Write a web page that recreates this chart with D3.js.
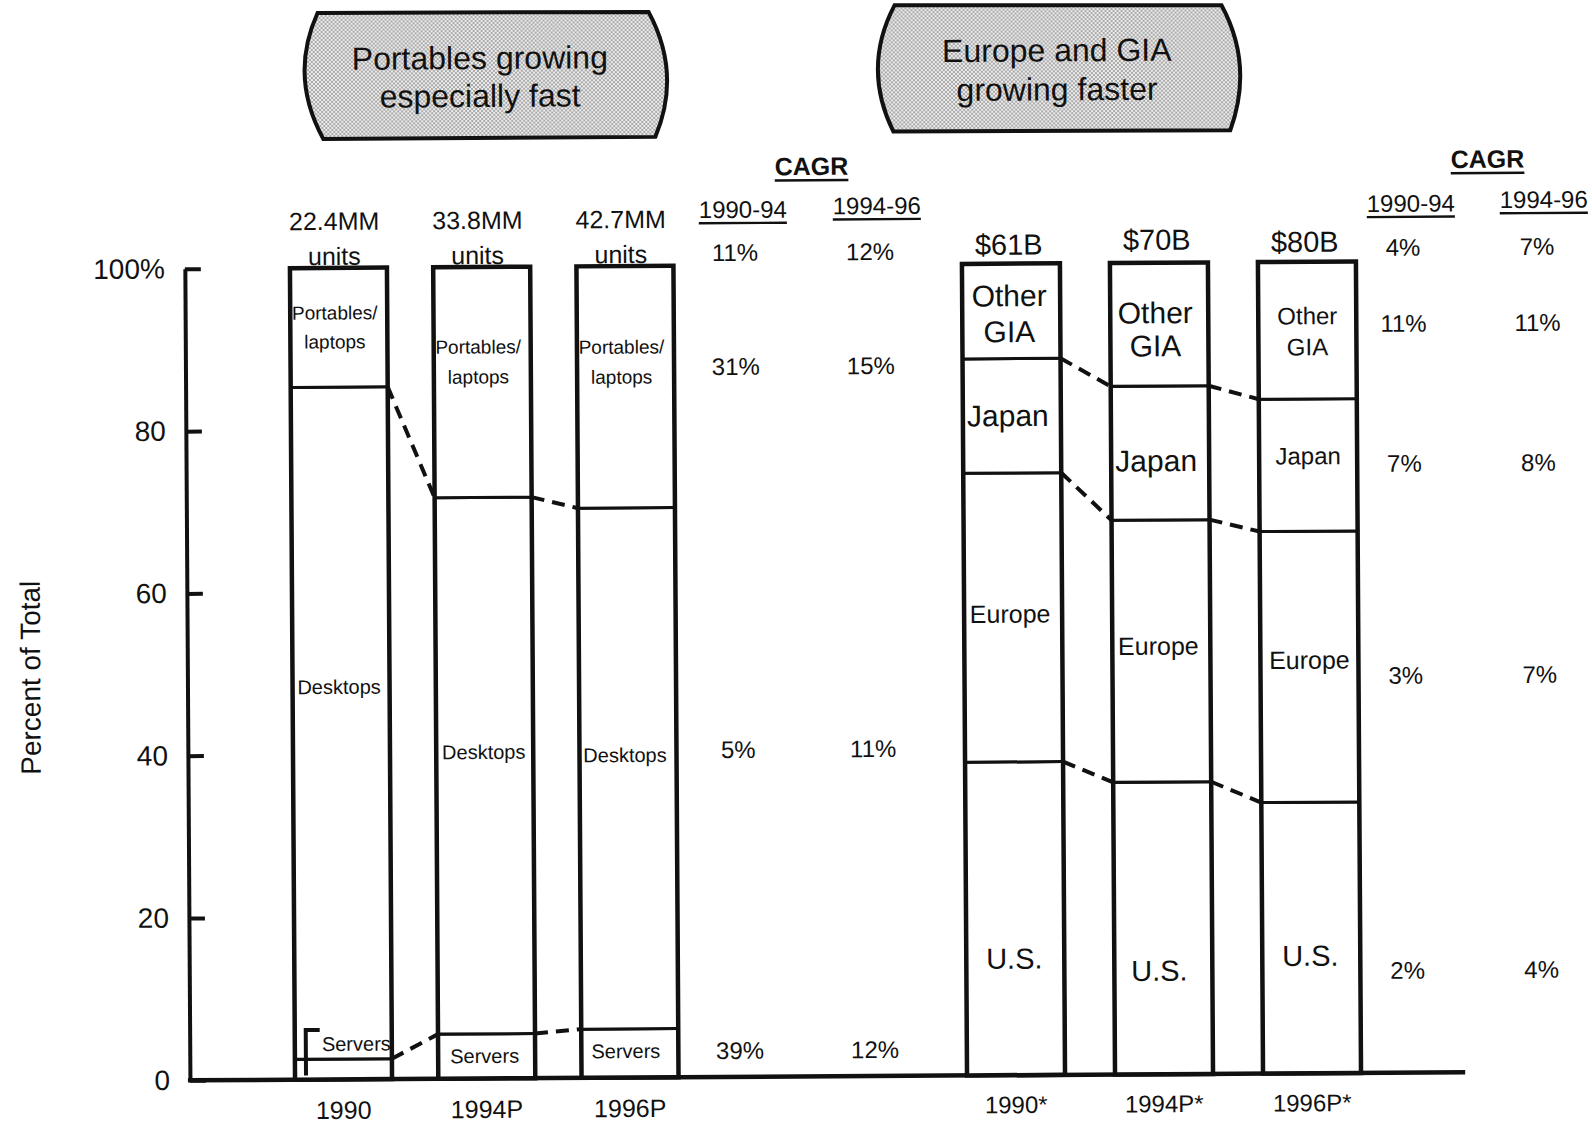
<!DOCTYPE html>
<html>
<head>
<meta charset="utf-8">
<script src="https://cdn.jsdelivr.net/npm/d3@7"></script>
<style>
  body { margin: 0; background: #fff; }
  svg { display: block; }
  text { font-family: "Liberation Sans", Arial, Helvetica, sans-serif; fill: #111; }
</style>
</head>
<body>
<svg id="chart" width="1592" height="1127"></svg>
<script>
// ---- Unit shipments by product type (percent of total) ----
const unitYears = ["1990", "1994P", "1996P"];
const unitTotalsMM = [22.4, 33.8, 42.7];
const serversShare = [2.5, 5.5, 6.0];
const desktopsShare = [82.8, 66.1, 64.2];
const portablesShare = [14.7, 28.4, 29.8];
// CAGR rows: total, portables, desktops, servers
const unitCagr9094 = ["11%", "31%", "5%", "39%"];
const unitCagr9496 = ["12%", "15%", "11%", "12%"];

// ---- Revenue by region (percent of total) ----
const regionYears = ["1990*", "1994P*", "1996P*"];
const revenueTotalsB = [61, 70, 80];
const usShare = [38.6, 36.0, 33.4];
const europeShare = [35.6, 32.3, 33.4];
const japanShare = [14.1, 16.5, 16.3];
const otherGiaShare = [11.7, 15.2, 16.9];
// CAGR rows: total, other GIA, Japan, Europe, U.S.
const regionCagr9094 = ["4%", "11%", "7%", "3%", "2%"];
const regionCagr9496 = ["7%", "11%", "8%", "7%", "4%"];

const yTicks = [0, 20, 40, 60, 80, 100];
const cagrPeriods = ["1990-94", "1994-96"];
const calloutLines = [["Portables growing", "especially fast"], ["Europe and GIA", "growing faster"]];

// ---- layout ----
const svg = d3.select("#chart");
const defs = svg.append("defs");
const stipple = defs.append("pattern")
  .attr("id", "stipple").attr("width", 4).attr("height", 4)
  .attr("patternUnits", "userSpaceOnUse");
stipple.append("rect").attr("width", 4).attr("height", 4).attr("fill", "#ececec");
stipple.append("circle").attr("cx", 1).attr("cy", 1).attr("r", 0.72).attr("fill", "#444");
stipple.append("circle").attr("cx", 3).attr("cy", 3).attr("r", 0.72).attr("fill", "#444");

// the page is drawn slightly rotated, as on the printed sheet
const g = svg.append("g").attr("transform", "rotate(-0.36 796 563)");

const y = d3.scaleLinear().domain([0, 100]).range([1076.5, 265]);
const xUnits = d3.scalePoint().domain(unitYears).range([340.3, 626.8]);
const xRegion = d3.scalePoint().domain(regionYears).range([1012.8, 1308.8]);
const unitBarW = 97, regionBarW = 98;
const axisX = 186.7;

// ---- callout boxes ----
const calloutShapes = [
  { tl: [321, 10], tr: [652, 11], br: [658, 136], bl: [326, 136], lc: [292, 73], rc: [685, 73], cx: 483, ys: [56, 94] },
  { tl: [898, 6], tr: [1225, 8], br: [1233, 133], bl: [896, 132], lc: [865, 68], rc: [1257, 68], cx: 1060, ys: [52, 91] }
];
calloutShapes.forEach((s, i) => {
  const p = d3.path();
  p.moveTo(...s.tl); p.lineTo(...s.tr);
  p.quadraticCurveTo(...s.rc, ...s.br);
  p.lineTo(...s.bl);
  p.quadraticCurveTo(...s.lc, ...s.tl);
  p.closePath();
  g.append("path").attr("d", p.toString())
    .attr("fill", "url(#stipple)").attr("stroke", "#111").attr("stroke-width", 4);
  calloutLines[i].forEach((line, j) => {
    g.append("text").attr("x", s.cx).attr("y", s.ys[j])
      .attr("text-anchor", "middle").attr("dominant-baseline", "central")
      .attr("font-size", 32).text(line);
  });
});

// ---- y axis ----
const yAxis = d3.axisLeft(y).tickValues(yTicks).tickSizeInner(-16).tickSizeOuter(0).tickPadding(20)
  .tickFormat(d => d === 100 ? "100%" : d);
const ya = g.append("g").attr("transform", `translate(${axisX},0)`).call(yAxis);
ya.select(".domain").attr("stroke", "#111").attr("stroke-width", 4);
ya.selectAll(".tick line").attr("stroke", "#111").attr("stroke-width", 4);
ya.selectAll(".tick text").attr("font-size", 28).attr("fill", "#111")
  .attr("font-family", "'Liberation Sans', Arial, sans-serif");

g.append("text").attr("transform", "translate(30,673) rotate(-90)")
  .attr("text-anchor", "middle").attr("dominant-baseline", "central")
  .attr("font-size", 28).text("Percent of Total");

// baseline across both panels
g.append("line").attr("x1", axisX - 2).attr("x2", 1462)
  .attr("y1", y(0)).attr("y2", y(0)).attr("stroke", "#111").attr("stroke-width", 4.5);

// ---- stacked bars ----
function drawStack(keys, table, xs, barW) {
  const series = d3.stack().keys(keys)(table);
  const gb = g.append("g");
  series.forEach(s => {
    gb.selectAll(null).data(s).join("rect")
      .attr("x", (d, i) => xs(table[i].year) - barW / 2)
      .attr("width", barW)
      .attr("y", d => y(d[1]))
      .attr("height", d => y(d[0]) - y(d[1]))
      .attr("fill", "#fff").attr("stroke", "#111").attr("stroke-width", 3);
  });
  // heavy outline of each bar
  gb.selectAll(null).data(table).join("rect")
    .attr("x", d => xs(d.year) - barW / 2).attr("width", barW)
    .attr("y", y(100)).attr("height", y(0) - y(100))
    .attr("fill", "none").attr("stroke", "#111").attr("stroke-width", 4.5);
  // dashed connectors between segment boundaries
  series.slice(0, -1).forEach(s => {
    for (let i = 0; i < s.length - 1; i++) {
      gb.append("line")
        .attr("x1", xs(table[i].year) + barW / 2).attr("y1", y(s[i][1]))
        .attr("x2", xs(table[i + 1].year) - barW / 2).attr("y2", y(s[i + 1][1]))
        .attr("stroke", "#111").attr("stroke-width", 4).attr("stroke-dasharray", "13,8");
    }
  });
  return series;
}

const unitTable = unitYears.map((yr, i) => ({
  year: yr, servers: serversShare[i], desktops: desktopsShare[i], portables: portablesShare[i]
}));
drawStack(["servers", "desktops", "portables"], unitTable, xUnits, unitBarW);

const regionTable = regionYears.map((yr, i) => ({
  year: yr, us: usShare[i], europe: europeShare[i], japan: japanShare[i], other: otherGiaShare[i]
}));
drawStack(["us", "europe", "japan", "other"], regionTable, xRegion, regionBarW);

// ---- segment labels ----
function label(x, yy, txt, size) {
  g.append("text").attr("x", x).attr("y", yy)
    .attr("text-anchor", "middle").attr("dominant-baseline", "central")
    .attr("font-size", size).text(txt);
}
const unitLabelLayout = [
  { lines: ["Portables/", "laptops"], ys: [[310, 339], [345, 375], [346, 376]], dx: [-4, -4, -4], size: 19 },
  { lines: ["Desktops"], ys: [[684], [750], [754]], dx: [-2, -1, -3], size: 20 },
  { lines: ["Servers"], ys: [[1041], [1054], [1050]], dx: [13, -2, -4], size: 20 }
];
unitLabelLayout.forEach(L => unitYears.forEach((yr, i) => {
  L.lines.forEach((t, j) => label(xUnits(yr) + L.dx[i], L.ys[i][j], t, L.size));
}));
// bracket pointing at the thin 1990 servers slice
const bx = xUnits(unitYears[0]) - unitBarW / 2 + 11;
g.append("path")
  .attr("d", `M${bx},${y(0) - 4} V${1027} H${bx + 14}`)
  .attr("fill", "none").attr("stroke", "#111").attr("stroke-width", 4);

const regionLabelLayout = [
  { lines: ["Other", "GIA"], ys: [[297, 333], [315, 348], [319, 350]], sizes: [30, 30, 24], dx: [-2, -4, 0] },
  { lines: ["Japan"], ys: [[417], [463], [459]], sizes: [30, 30, 24], dx: [-4, -4, 0] },
  { lines: ["Europe"], ys: [[615], [648], [663]], sizes: [25, 25, 25], dx: [-3, -3, 0] },
  { lines: ["U.S."], ys: [[960], [973], [959]], sizes: [29, 29, 29], dx: [-1, -4, -1] }
];
regionLabelLayout.forEach(L => regionYears.forEach((yr, i) => {
  L.lines.forEach((t, j) => label(xRegion(yr) + L.dx[i], L.ys[i][j], t, L.sizes[i]));
}));

// ---- totals above bars ----
unitYears.forEach((yr, i) => {
  label(xUnits(yr) - 4, 218, `${unitTotalsMM[i]}MM`, 25);
  label(xUnits(yr) - 4, 253, "units", 25);
});
const revTotalY = [246, 242, 245];
regionYears.forEach((yr, i) => label(xRegion(yr) - 2, revTotalY[i], `$${revenueTotalsB[i]}B`, 29));

// ---- x-axis category labels ----
unitYears.forEach(yr => label(xUnits(yr), 1107, yr, 25));
regionYears.forEach(yr => label(xRegion(yr), 1106, yr, 24));

// ---- CAGR tables ----
function cagrTable(hx, hy, cols, colHeadY, rowsY, values) {
  g.append("text").attr("x", hx).attr("y", hy)
    .attr("text-anchor", "middle").attr("dominant-baseline", "central")
    .attr("font-size", 25).attr("font-weight", "bold")
    .attr("text-decoration", "underline").text("CAGR");
  cagrPeriods.forEach((p, c) => {
    g.append("text").attr("x", cols[c]).attr("y", colHeadY[c])
      .attr("text-anchor", "middle").attr("dominant-baseline", "central")
      .attr("font-size", 24).attr("text-decoration", "underline").text(p);
    values[c].forEach((v, r) => label(cols[c] - (c === 0 ? 8 : 7), rowsY[r], v, 24));
  });
}
cagrTable(814, 166, [745, 879], [209, 206], [252, 366, 749, 1050], [unitCagr9094, unitCagr9496]);
cagrTable(1490, 163, [1413, 1546], [207, 204], [251, 327, 467, 679, 974], [regionCagr9094, regionCagr9496]);
</script>
</body>
</html>
